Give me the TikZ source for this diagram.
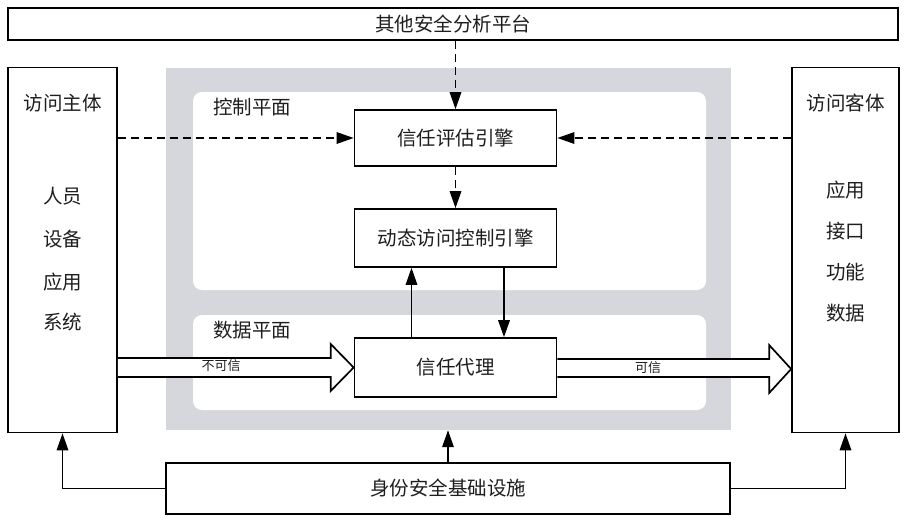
\documentclass[tikz,border=0pt]{standalone}
\usepackage{fontspec}
\setmainfont{Noto Sans CJK SC}
\usetikzlibrary{arrows.meta,calc}
\definecolor{panelgray}{RGB}{214,215,220}
\definecolor{ink}{RGB}{30,30,30}
\begin{document}
\begin{tikzpicture}[x=1pt,y=-1pt,
  box/.style={draw=black,line width=1.7pt,fill=white,rectangle,inner sep=0pt,text=ink,font=\fontsize{19.5}{22}\selectfont},
  txt/.style={inner sep=0pt,text=ink,font=\fontsize{19.5}{22}\selectfont},
  small/.style={inner sep=0pt,text=ink,font=\fontsize{13}{15}\selectfont},
  arr/.style={line width=1.7pt,-{Triangle[length=17pt,width=11.5pt]}},
  darr/.style={line width=1.6pt,dash pattern=on 8pt off 5pt,-{Triangle[length=17pt,width=11.5pt]}},
  bigarr/.style={draw=black,line width=1.7pt,fill=white,line join=miter}
]
\useasboundingbox (0,0) rectangle (906,520);
% gray region
\node[fill=panelgray,minimum width=565pt,minimum height=362pt,inner sep=0pt] (gray) at (448.5,249) {};
\node[fill=white,rounded corners=9pt,minimum width=513pt,minimum height=198pt,inner sep=0pt] (cpanel) at (449.5,191) {};
\node[fill=white,rounded corners=9pt,minimum width=513pt,minimum height=95pt,inner sep=0pt] (dpanel) at (449.5,362.5) {};
\node[txt] (ctl) at (252,107) {控制平面};
\node[txt] (dat) at (252,330) {数据平面};
% top
\node[box,minimum width=890pt,minimum height=32pt] (top) at (453,24) {其他安全分析平台};
% left / right boxes
\node[box,minimum width=109pt,minimum height=365pt] (left) at (62.5,250) {};
\node[box,minimum width=107pt,minimum height=365pt] (right) at (845.5,250) {};
\node[txt] (lt) at (62.5,103) {访问主体};
\node[txt] (l1) at (62.5,196) {人员};
\node[txt] (l2) at (62.5,239) {设备};
\node[txt] (l3) at (62.5,282) {应用};
\node[txt] (l4) at (62.5,322) {系统};
\node[txt] (rt) at (845.5,103) {访问客体};
\node[txt] (r1) at (845.5,190) {应用};
\node[txt] (r2) at (845.5,231) {接口};
\node[txt] (r3) at (845.5,272) {功能};
\node[txt] (r4) at (845.5,313) {数据};
% inner boxes
\node[box,minimum width=202pt,minimum height=56pt] (eval) at (455.5,138) {信任评估引擎};
\node[box,minimum width=202pt,minimum height=58pt] (dyn) at (455.5,238) {动态访问控制引擎};
\node[box,minimum width=202pt,minimum height=59pt] (proxy) at (455.5,367.5) {信任代理};
% bottom
\node[box,minimum width=564pt,minimum height=51pt] (bot) at (448,488.5) {身份安全基础设施};
% dashed arrows
\draw[darr] (top.south -| eval.north) -- (eval.north);
\draw[darr] (left.east |- eval.west) -- (eval.west);
\draw[darr] (right.west |- eval.east) -- (eval.east);
\draw[darr] (eval.south) -- (dyn.north);
% solid arrows between dyn and proxy
\coordinate (upx) at ($(proxy.north)+(-44,0)$);
\coordinate (dnx) at ($(proxy.north)+(48.5,0)$);
\draw[arr] (upx) -- (upx |- dyn.south);
\draw[arr] (dnx |- dyn.south) -- (dnx);
% bottom connectors
\draw[arr] (bot.west) -| (left.south);
\draw[arr] (bot.east) -| (right.south);
\draw[arr] (bot.north) -- (bot.north |- gray.south);
% big arrows
\draw[bigarr] ($(left.east|-proxy.west)+(0,-9.5)$) -- ($(proxy.west)+(-23,-9.5)$) -- ($(proxy.west)+(-23,-23.5)$) -- (proxy.west) -- ($(proxy.west)+(-23,23.5)$) -- ($(proxy.west)+(-23,9.5)$) -- ($(left.east|-proxy.west)+(0,9.5)$);
\coordinate (rtip) at (right.west |- 0,369);
\draw[bigarr] ($(proxy.east)+(0,-8.5)$) -- ($(rtip)+(-22,-10)$) -- ($(rtip)+(-22,-24)$) -- (rtip) -- ($(rtip)+(-22,24)$) -- ($(rtip)+(-22,8)$) -- ($(proxy.east)+(0,9.5)$);
\node[small] (untr) at (221,366) {不可信};
\node[small] (tr) at (648,368) {可信};
\end{tikzpicture}
\end{document}
